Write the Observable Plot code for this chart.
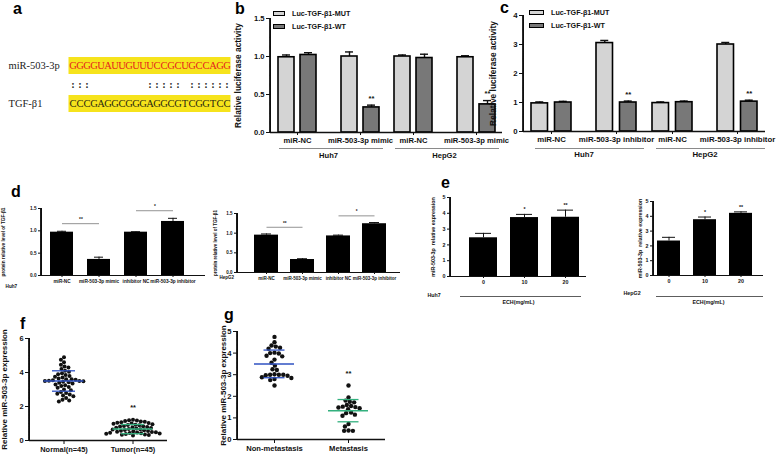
<!DOCTYPE html>
<html>
<head>
<meta charset="utf-8">
<script src="https://cdn.jsdelivr.net/npm/d3@7"></script>
<script src="https://cdn.jsdelivr.net/npm/@observablehq/plot@0.6"></script>
<style>
html,body{margin:0;padding:0;background:#fff;}
#root{position:relative;width:783px;height:454px;overflow:hidden;background:#fff;font-family:"Liberation Sans",Arial,sans-serif;}
#root svg{overflow:visible;}
.luc [aria-label="y-axis label"]{font-size:8.4px;}
.scat [aria-label="y-axis label"]{font-size:8px;}
.legend{position:absolute;font:bold 7.2px "Liberation Sans",Arial,sans-serif;color:#111;}
.legend div{display:flex;align-items:center;height:13px;white-space:nowrap;}
.legend span.sw{display:inline-block;height:3.5px;border:1.3px solid #000;margin-right:7px;}
.letters text{font:bold 16px "Liberation Sans",Arial,sans-serif;fill:#000;}
</style>
</head>
<body>
<div id="root"></div>
<script>
// ================= DATA =================
// panel a: sequences
const seqLabels = ["miR-503-3p", "TGF-β1"];
const mirSeq = "GGGGUAUUGUUUCCGCUGCCAGG";
const tgfSeq = "CCCGAGGCGGGAGGCGTCGGTCC";
const pairedPositions = [0, 1, 2, 11, 12, 13, 14, 15, 17, 18, 19, 20, 21, 22];

// panels b, c: luciferase (order: Huh7 ctrl, Huh7 treat, HepG2 ctrl, HepG2 treat)
const cellLines = ["Huh7", "HepG2"];
const seriesNames = ["Luc-TGF-β1-MUT", "Luc-TGF-β1-WT"];
const seriesColors = ["#d4d4d4", "#787878"];
const lucLabel = "Relative luciferase activity";

const bTreatments = ["miR-NC", "miR-503-3p mimic"];
const bMut = [0.99, 1.00, 1.00, 0.99];
const bMutErr = [0.03, 0.06, 0.02, 0.02];
const bWt = [1.02, 0.33, 0.98, 0.37];
const bWtErr = [0.03, 0.03, 0.05, 0.05];
const bWtSig = ["", "**", "", "**"];
const bTicks = [0, 0.5, 1.0, 1.5];

const cTreatments = ["miR-NC", "miR-503-3p inhibitor"];
const cMut = [0.97, 3.05, 0.98, 3.00];
const cMutErr = [0.05, 0.09, 0.04, 0.07];
const cWt = [1.00, 1.00, 1.01, 1.03];
const cWtErr = [0.04, 0.05, 0.04, 0.05];
const cWtSig = ["", "**", "", "**"];
const cTicks = [0, 1, 2, 3, 4];

// panel d: protein level
const dCategories = ["miR-NC", "miR-503-3p mimic", "inhibitor NC", "miR-503-3p inhibitor"];
const dLabel = "protein relative level of TGF-β1";
const dHuh7 = [0.97, 0.36, 0.97, 1.21];
const dHuh7Err = [0.02, 0.05, 0.01, 0.07];
const dHepG2 = [0.95, 0.33, 0.93, 1.24];
const dHepG2Err = [0.03, 0.02, 0.02, 0.03];
const dComparisons = [["miR-NC", "miR-503-3p mimic", "**"], ["inhibitor NC", "miR-503-3p inhibitor", "*"]];
const dTicks = [0, 0.5, 1.0, 1.5];

// panel e: ECH dose
const eDoses = ["0", "10", "20"];
const eLabel = "miR-503-3p  relative expression";
const ecLabel = "ECH(mg/mL)";
const eHuh7 = [2.45, 3.73, 3.75];
const eHuh7Err = [0.28, 0.20, 0.45];
const eHepG2 = [2.33, 3.77, 4.20];
const eHepG2Err = [0.25, 0.18, 0.10];
const eSig = ["", "*", "**"];
const eTicks = [0, 1, 2, 3, 4, 5];

// panel f: tissues
const fGroups = ["Normal(n=45)", "Tumor(n=45)"];
const exprLabel = "Relative miR-503-3p expression";
const fNormal = [4.9, 4.75, 4.6, 4.45, 4.35, 4.3, 4.2, 4.1, 4.05, 3.95, 3.9, 3.85, 3.8, 3.75, 3.7,
  3.65, 3.6, 3.6, 3.58, 3.55, 3.52, 3.5, 3.5, 3.48, 3.45, 3.42, 3.4, 3.35, 3.3, 3.25,
  3.2, 3.15, 3.1, 3.0, 2.95, 2.85, 2.8, 2.75, 2.7, 2.65, 2.6, 2.5, 2.4, 2.35, 2.3];
const fTumor = [1.22, 1.19, 1.17, 1.14, 1.12, 1.1, 1.07, 1.05, 1.03, 1.0, 0.98, 0.96, 0.93, 0.91, 0.89,
  0.86, 0.84, 0.82, 0.8, 0.77, 0.75, 0.73, 0.7, 0.68, 0.66, 0.64, 0.62, 0.6, 0.58, 0.56,
  0.54, 0.52, 0.5, 0.49, 0.47, 0.46, 0.44, 0.43, 0.41, 0.4, 0.38, 0.36, 0.34, 0.32, 0.3];
const fMeans = [3.5, 0.67];
const fSDs = [0.6, 0.27];
const fSig = ["", "**"];
const fTicks = [0, 2, 4, 6];

// panel g: metastasis
const gGroups = ["Non-metastasis", "Metastasis"];
const gNon = [4.75, 4.5, 4.35, 4.3, 4.25, 4.2, 4.02, 4.0, 3.98, 3.88, 3.85, 3.7, 3.55, 3.42,
  3.25, 3.22, 3.02, 3.0, 3.0, 3.0, 2.98, 2.95, 2.88, 2.85, 2.8, 2.75, 2.5];
const gMet = [2.5, 1.95, 1.8, 1.75, 1.72, 1.6, 1.55, 1.52, 1.5, 1.48, 1.45, 1.4, 1.25, 1.22,
  1.15, 1.1, 0.72, 0.6, 0.42, 0.4, 0.4];
const gMeans = [3.5, 1.335];
const gSDs = [0.64, 0.515];
const gSig = ["", "**"];
const gTicks = [0, 1, 2, 3, 4, 5];

const statColors = ["#2f52c2", "#33b07e"];

// ================= HELPERS =================
const root = document.getElementById("root");
const FONT = "'Liberation Sans', Arial, Helvetica, sans-serif";
function place(node, left, top) {
  node.style.position = "absolute";
  node.style.left = left + "px";
  node.style.top = top + "px";
  root.appendChild(node);
  return node;
}
function baseStyle(size) {
  return {fontFamily: FONT, fontSize: size + "px", fontWeight: "bold", color: "#111", background: "transparent", overflow: "visible"};
}
// vertical y-axis line along the left edge of the first facet:
// a rule moved from the facet centre to its edge, plus a dense stack of short ticks hugging the edge
function yAxisLine(yMax, facetW, w, fxKey) {
  const steps = d3.range(0, yMax * 1.0001, yMax / 240).map(v => ({v, f: fxKey}));
  return [
    Plot.ruleX([{f: fxKey}], {fx: "f", y1: () => 0, y2: () => yMax, dx: -facetW / 2, stroke: "#111", strokeWidth: w}),
    Plot.tickY(steps, {fx: "f", y: "v", insetRight: facetW - w, dx: -w / 2, stroke: "#111", strokeWidth: 1})
  ];
}

// ================= PANEL A =================
const aRows = ["mir", "pair", "tgf"];
const aCells = [];
for (let i = 0; i < mirSeq.length; i++) {
  aCells.push({i, row: "mir", ch: mirSeq[i]});
  aCells.push({i, row: "tgf", ch: tgfSeq[i]});
}
const aPairs = pairedPositions.map(i => ({i, row: "pair", ch: ":"}));
const aLabels = [{row: "mir", label: seqLabels[0]}, {row: "tgf", label: seqLabels[1]}];
place(Plot.plot({
  width: 240, height: 130, marginLeft: 68, marginRight: 9, marginTop: 55, marginBottom: 16,
  style: {...baseStyle(10.5), fontFamily: "'Liberation Serif', 'Times New Roman', serif", fontWeight: "normal"},
  x: {domain: d3.range(mirSeq.length), padding: 0, axis: null},
  y: {domain: aRows, padding: 0, axis: null},
  marks: [
    Plot.cell(aCells, {x: "i", y: "row", fill: "#f6e31c", stroke: "#f6e31c", insetTop: 1.5, insetBottom: 1.5}),
    Plot.text(aCells.filter(d => d.row === "mir"), {x: "i", y: "row", text: "ch", fill: "#e5241d"}),
    Plot.text(aCells.filter(d => d.row === "tgf"), {x: "i", y: "row", text: "ch", fill: "#2a2a10"}),
    Plot.text(aPairs, {x: "i", y: "row", text: "ch", fill: "#222", fontWeight: "bold"}),
    Plot.text(aLabels, {y: "row", text: "label", frameAnchor: "left", textAnchor: "start", dx: -60, fill: "#222"})
  ]
}), 0, 0);

// ================= PANELS B, C =================
function luciferasePanel(o) {
  const rows = [];
  cellLines.forEach((cell, ci) => o.treatments.forEach((t, ti) => {
    const k = ci * o.treatments.length + ti;
    rows.push({cell, t, s: seriesNames[0], v: o.mut[k], e: o.mutErr[k], sig: ""});
    rows.push({cell, t, s: seriesNames[1], v: o.wt[k], e: o.wtErr[k], sig: o.wtSig[k]});
  }));
  const mutRows = rows.filter(d => d.s === seriesNames[0]);
  const wtRows = rows.filter(d => d.s === seriesNames[1]);
  const top = d => d.v + d.e;
  const band = 2 * o.barW + o.gap, shift = (o.barW + o.gap) / 2;
  const capA = o.barW / 2 - 4, capB = band - o.barW / 2 - 4;
  const common = {fx: "cell", x: "t"};
  const facetW = (o.width - o.mL - o.mR) / cellLines.length;
  return Plot.plot({
    className: "luc",
    width: o.width, height: o.height,
    marginLeft: o.mL, marginRight: o.mR, marginTop: o.mT, marginBottom: o.mB,
    style: baseStyle(o.font),
    fx: {domain: cellLines, padding: 0, axis: "bottom", tickSize: 0, tickPadding: o.groupPad, label: null},
    x: {domain: o.treatments, paddingInner: o.padIn, paddingOuter: o.padOut, axis: "bottom", tickSize: 3, tickPadding: 2, label: null},
    y: {domain: [0, o.yMax], ticks: o.ticks, tickFormat: o.fmt, tickSize: 4, tickPadding: 2, line: true,
        label: lucLabel, labelAnchor: "center", labelArrow: "none", labelOffset: o.labelOffset},
    color: {domain: seriesNames, range: seriesColors},
    marks: [
      Plot.ruleY([0], {dy: o.groupLineDy, insetLeft: o.glInL, insetRight: o.glInR, stroke: "#8a8a8a", strokeWidth: 1}),
      Plot.ruleX(mutRows, {...common, y1: "v", y2: top, dx: -shift, strokeWidth: 1.4}),
      Plot.tickY(mutRows, {...common, y: top, insetLeft: capA, insetRight: capB, strokeWidth: 1.4}),
      Plot.ruleX(wtRows, {...common, y1: "v", y2: top, dx: shift, strokeWidth: 1.4}),
      Plot.tickY(wtRows, {...common, y: top, insetLeft: capB, insetRight: capA, strokeWidth: 1.4}),
      Plot.barY(mutRows, {...common, y: "v", fill: "s", stroke: "#000", strokeWidth: 1.6, insetRight: o.barW + o.gap}),
      Plot.barY(wtRows, {...common, y: "v", fill: "s", stroke: "#000", strokeWidth: 1.6, insetLeft: o.barW + o.gap}),
      Plot.text(wtRows, {...common, y: top, text: "sig", dx: shift, dy: -7, fontSize: o.font}),
      Plot.ruleY([0], {strokeWidth: 1.5}),
      yAxisLine(o.yMax, facetW, 1.5, cellLines[0])
    ]
  });
}
function addLegend(plot, left, top, swW) {
  const color = plot.scale("color");
  const div = document.createElement("div");
  div.className = "legend";
  color.domain.forEach((name, i) => {
    const row = document.createElement("div");
    const sw = document.createElement("span");
    sw.className = "sw";
    sw.style.width = swW + "px";
    sw.style.background = color.range[i];
    row.appendChild(sw);
    row.appendChild(document.createTextNode(name));
    div.appendChild(row);
  });
  place(div, left, top);
}

const plotB = luciferasePanel({
  treatments: bTreatments, mut: bMut, mutErr: bMutErr, wt: bWt, wtErr: bWtErr, wtSig: bWtSig,
  yMax: 1.5, ticks: bTicks, fmt: ".1f",
  width: 310, height: 170, mL: 75, mR: 2.5, mT: 18, mB: 38,
  barW: 16, gap: 6, padIn: 0.4016, padOut: 0.116, groupPad: 20, groupLineDy: 16, glInL: 9, glInR: 3,
  labelOffset: 35, font: 7.6
});
place(plotB, 195, 0);
addLegend(plotB, 273, 7, 10);

const plotC = luciferasePanel({
  treatments: cTreatments, mut: cMut, mutErr: cMutErr, wt: cWt, wtErr: cWtErr, wtSig: cWtSig,
  yMax: 4, ticks: cTicks, fmt: "d",
  width: 293, height: 170, mL: 33, mR: 18, mT: 15, mB: 39,
  barW: 16.5, gap: 7, padIn: 0.3874, padOut: 0.12, groupPad: 20, groupLineDy: 17, glInL: 12, glInR: 0,
  labelOffset: 33, font: 7.8
});
place(plotC, 490, 0);
addLegend(plotC, 529, 6, 13);

// ================= PANELS D, E =================
function barPanel(o) {
  const data = o.cats.map((c, i) => ({c, v: o.vals[i], e: o.errs[i], sig: o.sigs ? o.sigs[i] : ""}));
  const top = d => d.v + d.e;
  const frameW = o.width - o.mL - o.mR;
  const marks = [
    Plot.ruleX(data, {x: "c", y1: "v", y2: top, strokeWidth: 1}),
    Plot.tickY(data, {x: "c", y: top, inset: o.capInset, strokeWidth: 1}),
    Plot.barY(data, {x: "c", y: "v", fill: "#000"}),
    Plot.ruleY([0], {strokeWidth: 1.1}),
    yAxisLine(o.yMax, frameW, 1.2, o.cell),
    Plot.text(data, {x: "c", y: top, text: "sig", dy: -5, fontSize: o.font}),
    Plot.text([o.cell], {frameAnchor: "bottom-left", textAnchor: "start", dx: o.cellDx, dy: o.cellDy, text: d => d, fontSize: o.font})
  ];
  if (o.comparisons) {
    const cmp = o.comparisons.map(([a, b, label]) => ({
      a, b, label, lvl: d3.max(data.filter(d => d.c === a || d.c === b), top) + 0.17
    }));
    marks.push(
      Plot.link(cmp, {x1: "a", x2: "b", y1: "lvl", y2: "lvl", stroke: "#777", strokeWidth: 0.8}),
      Plot.text(cmp, {x: "a", y: "lvl", text: "label", dx: o.step / 2, dy: -4, fontSize: o.font})
    );
  }
  if (o.doseLine) {
    marks.push(
      Plot.ruleY([0], {dy: o.doseLine.dy, insetLeft: o.doseLine.inL, insetRight: o.doseLine.inR, stroke: "#333", strokeWidth: 0.8}),
      Plot.text([ecLabel], {frameAnchor: "bottom", dy: o.doseLine.dy + 7, text: d => d, fontSize: o.font})
    );
  }
  return Plot.plot({
    width: o.width, height: o.height,
    marginLeft: o.mL, marginRight: o.mR, marginTop: o.mT, marginBottom: o.mB,
    style: baseStyle(o.font),
    fx: {domain: [o.cell], padding: 0, axis: null, label: null},
    x: {domain: o.cats, paddingInner: o.padIn, paddingOuter: o.padOut, align: o.align, tickSize: 2, tickPadding: 2, label: null},
    y: {domain: [0, o.yMax], ticks: o.ticks, tickFormat: o.fmt, tickSize: 3, tickPadding: 2, line: true,
        label: o.yLabel, labelAnchor: "center", labelArrow: "none", labelOffset: o.labelOffset},
    marks
  });
}

place(barPanel({
  cats: dCategories, vals: dHuh7, errs: dHuh7Err, comparisons: dComparisons, cell: cellLines[0],
  yMax: 1.5, ticks: dTicks, fmt: ".1f", yLabel: dLabel, labelOffset: 40,
  width: 210, height: 130, mL: 41, mR: 5, mT: 38, mB: 25,
  padIn: 0.39, padOut: 0.365, align: 0.29, step: 37.8, capInset: 7,
  cellDx: -36, cellDy: 12, font: 4.7
}), 0, 170);

place(barPanel({
  cats: dCategories, vals: dHepG2, errs: dHepG2Err, comparisons: dComparisons, cell: cellLines[1],
  yMax: 1.5, ticks: dTicks, fmt: ".1f", yLabel: dLabel, labelOffset: 24,
  width: 210, height: 130, mL: 37, mR: 10, mT: 43, mB: 28,
  padIn: 0.332, padOut: 0.405, align: 0.54, step: 36.4, capInset: 7,
  cellDx: -18, cellDy: 6, font: 4.5
}), 200, 170);

place(barPanel({
  cats: eDoses, vals: eHuh7, errs: eHuh7Err, sigs: eSig, cell: cellLines[0],
  yMax: 5, ticks: eTicks, fmt: "d", yLabel: eLabel, labelOffset: 19,
  width: 190, height: 135, mL: 40, mR: 14, mT: 27, mB: 29,
  padIn: 0.317, padOut: 0.317, align: 0.73, capInset: 6,
  doseLine: {dy: 20, inL: 10, inR: 5}, cellDx: -23, cellDy: 20, font: 5.3
}), 410, 170);

place(barPanel({
  cats: eDoses, vals: eHepG2, errs: eHepG2Err, sigs: eSig, cell: cellLines[1],
  yMax: 5, ticks: eTicks, fmt: "d", yLabel: eLabel, labelOffset: 15,
  width: 183, height: 135, mL: 53, mR: 20, mT: 31, mB: 30,
  padIn: 0.37, padOut: 0.19, align: 0.25, capInset: 5,
  doseLine: {dy: 21, inL: 3, inR: 0}, cellDx: -30, cellDy: 19, font: 5.3
}), 600, 170);

// ================= PANELS F, G =================
function scatterPanel(o) {
  const pts = [];
  o.groups.forEach((g, gi) => o.values[gi].forEach(v => pts.push({g, v})));
  const stats = o.groups.map((g, gi) => ({
    g, mean: o.means[gi], sd: o.sds[gi], color: statColors[gi], sig: o.sigs[gi], max: d3.max(o.values[gi])
  }));
  const lo = d => d.mean - d.sd, hi = d => d.mean + d.sd;
  const facetW = (o.width - o.mL - o.mR) / o.groups.length;
  return Plot.plot({
    className: "scat",
    width: o.width, height: o.height,
    marginLeft: o.mL, marginRight: o.mR, marginTop: o.mT, marginBottom: o.mB,
    style: baseStyle(o.font),
    fx: {domain: o.groups, padding: 0, axis: "bottom", tickSize: 4, tickPadding: 2, label: null},
    y: {domain: [0, o.yMax], ticks: o.ticks, tickFormat: "d", tickSize: 4, tickPadding: 2, line: true,
        label: exprLabel, labelAnchor: "center", labelArrow: "none", labelOffset: o.labelOffset},
    color: {type: "identity"},
    marks: [
      Plot.ruleY([0], {strokeWidth: 1.4}),
      yAxisLine(o.yMax, facetW, 1.4, o.groups[0]),
      Plot.dot(pts, Plot.dodgeX({anchor: "middle", padding: o.pad}, {fx: "g", y: "v", r: o.r, fill: "#111"})),
      Plot.ruleX(stats, {fx: "g", y1: lo, y2: hi, stroke: "color", strokeWidth: 1.3}),
      Plot.ruleY(stats, {fx: "g", y: "mean", stroke: "color", strokeWidth: 1.5, insetLeft: o.meanInset, insetRight: o.meanInset}),
      Plot.ruleY(stats, {fx: "g", y: lo, stroke: "color", strokeWidth: 1.3, insetLeft: o.capInset, insetRight: o.capInset}),
      Plot.ruleY(stats, {fx: "g", y: hi, stroke: "color", strokeWidth: 1.3, insetLeft: o.capInset, insetRight: o.capInset}),
      Plot.text(stats, {fx: "g", y: "max", text: "sig", dy: -12, fontSize: o.font})
    ]
  });
}

place(scatterPanel({
  groups: fGroups, values: [fNormal, fTumor], means: fMeans, sds: fSDs, sigs: fSig,
  yMax: 6, ticks: fTicks, labelOffset: 28,
  width: 175, height: 154, mL: 29, mR: 8, mT: 38, mB: 14,
  r: 2, pad: 0, meanInset: 14.5, capInset: 23, font: 7.4
}), 0, 300);

place(scatterPanel({
  groups: gGroups, values: [gNon, gMet], means: gMeans, sds: gSDs, sigs: gSig,
  yMax: 5, ticks: gTicks, labelOffset: 17,
  width: 190, height: 154, mL: 37, mR: 5, mT: 31, mB: 15,
  r: 2.2, pad: 0, meanInset: 17, capInset: 26.5, font: 7.6
}), 200, 300);

// ================= PANEL LETTERS =================
const letters = d3.create("svg").attr("class", "letters").attr("width", 783).attr("height", 454)
  .style("position", "absolute").style("left", "0px").style("top", "0px").style("pointer-events", "none");
[["a", 13, 14], ["b", 235, 14], ["c", 500, 13], ["d", 11, 197], ["e", 441, 188], ["f", 20, 329], ["g", 224, 320]]
  .forEach(([t, x, y]) => letters.append("text").attr("x", x).attr("y", y).text(t));
root.appendChild(letters.node());
</script>
</body>
</html>
